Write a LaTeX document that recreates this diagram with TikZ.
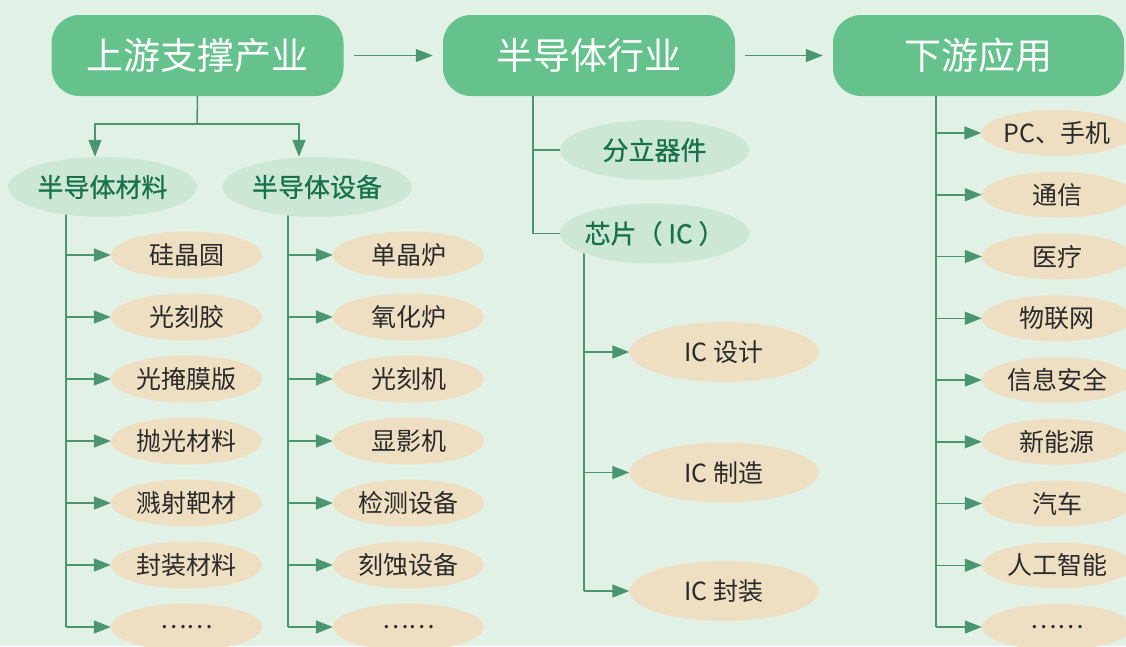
\documentclass[tikz,border=0pt]{standalone}
\usepackage{fontspec}
\setmainfont{Noto Sans CJK SC}
\newfontfamily\semibold{Noto Sans CJK SC}[FakeBold=0.8]
\usetikzlibrary{arrows.meta,shapes.geometric,backgrounds}
\definecolor{bg}{HTML}{E2F1E6}
\definecolor{boxgreen}{HTML}{66C28C}
\definecolor{subgreen}{HTML}{CCE7D5}
\definecolor{txtgreen}{HTML}{17724A}
\definecolor{beige}{HTML}{EEDFC2}
\definecolor{darktxt}{HTML}{2A2A2A}
\definecolor{linegreen}{HTML}{4A9670}
\tikzset{
  topbox/.style={rectangle, rounded corners=28pt, fill=boxgreen, text=white,
    minimum width=292pt, minimum height=81pt, inner sep=0pt,
    font=\fontsize{37}{40}\selectfont},
  subell/.style={ellipse, fill=subgreen, text=txtgreen, minimum width=189pt,
    minimum height=60pt, inner sep=0pt, font=\semibold\fontsize{26}{28}\selectfont},
  leaf/.style={ellipse, fill=beige, text=darktxt, minimum width=151pt,
    minimum height=47pt, inner sep=0pt, font=\fontsize{25}{28}\selectfont},
  icleaf/.style={leaf, minimum width=189pt, minimum height=60pt},
  appleaf/.style={leaf, minimum width=150pt, minimum height=46pt},
  conn/.style={draw=linegreen, line width=1.5pt},
  arr/.style={conn, -{Triangle[length=17pt,width=13pt,fill=linegreen]}},
}
\begin{document}
\begin{tikzpicture}[x=1pt,y=-1pt]
\begin{scope}[on background layer]
\fill[bg] (0,0) rectangle (1126,646);
\end{scope}
\useasboundingbox (0,0) rectangle (1126,646);

% top boxes
\node[topbox] (up)  at (197.5,55.5) {上游支撑产业};
\node[topbox] (ind) at (589,55.5) {半导体行业};
\node[topbox, minimum width=291pt] (app) at (978.5,55.5) {下游应用};
\draw[arr] ([xshift=10pt]up.east) -- ([xshift=-10pt]ind.west);
\draw[arr] ([xshift=10pt]ind.east) -- ([xshift=-10pt]app.west);

% upstream
\node[subell] (mat) at (102.5,187) {半导体材料};
\node[subell] (equ) at (317,187) {半导体设备};
\coordinate (j)  at (197,124);
\coordinate (j1) at (95,124);
\coordinate (j2) at (299,124);
\draw[conn] (up.south) -- (j);
\draw[arr] (j) -- (j1) -- (j1 |- mat.north);
\draw[arr] (j) -- (j2) -- (j2 |- equ.north);

\coordinate (lx) at (66,0);
\coordinate (rx) at (288,0);
\foreach \t [count=\i] in {硅晶圆,光刻胶,光掩膜版,抛光材料,溅射靶材,封装材料,……}{
  \node[leaf] (m\i) at (186.5,{255+62*(\i-1)}) {\t};
  \draw[arr] (lx |- m\i.west) -- (m\i.west);
}
\foreach \t [count=\i] in {单晶炉,氧化炉,光刻机,显影机,检测设备,刻蚀设备,……}{
  \node[leaf] (e\i) at (408.5,{255+62*(\i-1)}) {\t};
  \draw[arr] (rx |- e\i.west) -- (e\i.west);
}
\begin{scope}[on background layer]
\draw[conn] (lx |- mat.center) -- (lx |- m7.west);
\draw[conn] (rx |- equ.center) -- (rx |- e7.west);
\end{scope}

% industry
\node[subell] (disc) at (654.5,150) {分立器件};
\node[subell] (chip) at (654.5,233.5) {\makebox[120pt]{芯片（ IC ）}};
\coordinate (mx) at (533,0);
\draw[conn] (ind.south -| mx) -- (mx |- chip.west) -- (chip.west);
\draw[conn] (mx |- disc.west) -- (disc.west);

\node[icleaf] (icd) at (724,352) {IC 设计};
\node[icleaf] (icm) at (724,472.5) {IC 制造};
\node[icleaf] (icp) at (724,591) {IC 封装};
\coordinate (cx) at (584,0);
\begin{scope}[on background layer]
\draw[conn] (cx |- chip.center) -- (cx |- icp.west);
\end{scope}
\draw[arr] (cx |- icd.west) -- (icd.west);
\draw[arr] (cx |- icm.west) -- (icm.west);
\draw[arr] (cx |- icp.west) -- (icp.west);

% downstream
\coordinate (ax) at (936,0);
\foreach \t [count=\i] in {PC、手机,通信,医疗,物联网,信息安全,新能源,汽车,人工智能,……}{
  \node[appleaf] (a\i) at (1057,{133+61.75*(\i-1)}) {\t};
  \draw[arr] (ax |- a\i.west) -- (a\i.west);
}
\draw[conn] (app.south -| ax) -- (ax |- a9.west);
\end{tikzpicture}
\end{document}
